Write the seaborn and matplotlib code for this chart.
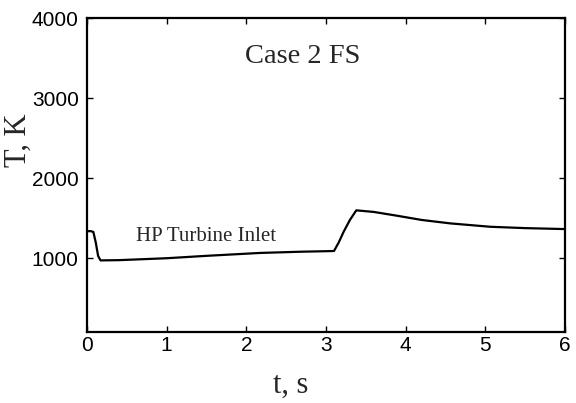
import matplotlib
matplotlib.use("Agg")
import matplotlib.pyplot as plt
import seaborn as sns
import pandas as pd

time_s = [0.0, 0.05, 0.08, 0.11, 0.14, 0.17, 0.4, 1.0, 1.5, 2.17, 2.67, 3.10,
          3.16, 3.22, 3.30, 3.38, 3.6, 3.89, 4.2, 4.56, 5.06, 5.5, 6.0]
temp_K = [1340, 1340, 1330, 1200, 1030, 975, 978, 1002, 1032, 1068, 1083, 1092,
          1200, 1330, 1480, 1600, 1580, 1533, 1480, 1437, 1395, 1378, 1366]

df = pd.DataFrame({"t": time_s, "T": temp_K})

sns.set_style("ticks")
plt.rcParams["font.family"] = ["Liberation Sans", "DejaVu Sans"]

fig = plt.figure(figsize=(5.76, 4.03), dpi=100)
ax = fig.add_axes([0.151, 0.176, 0.830, 0.779])

sns.lineplot(data=df, x="t", y="T", ax=ax, color="black", linewidth=1.6)

ax.set_xlim(0, 6)
ax.set_ylim(80, 4000)
ax.set_xticks([0, 1, 2, 3, 4, 5, 6])
ax.set_yticks([1000, 2000, 3000, 4000])
ax.tick_params(direction="in", length=4, width=1, top=True, right=True,
               labelsize=15, colors="black")
ax.tick_params(axis="y", pad=6)
ax.tick_params(axis="x", pad=3)
for s in ax.spines.values():
    s.set_linewidth(1.6)
    s.set_color("black")

serif = ["Liberation Serif", "DejaVu Serif"]
ax.set_xlabel("t, s", family=serif, fontsize=22)
ax.set_ylabel("T, K", family=serif, fontsize=22)
ax.xaxis.set_label_coords(0.427, -0.125)
ax.yaxis.set_label_coords(-0.113, 0.61)

ax.text(2.71, 3516, "Case 2 FS", family=serif, fontsize=20.5, ha="center", va="center")
ax.text(1.49, 1279, "HP Turbine Inlet", family=serif, fontsize=15, ha="center", va="center")

fig.savefig("out.png", dpi=100)
